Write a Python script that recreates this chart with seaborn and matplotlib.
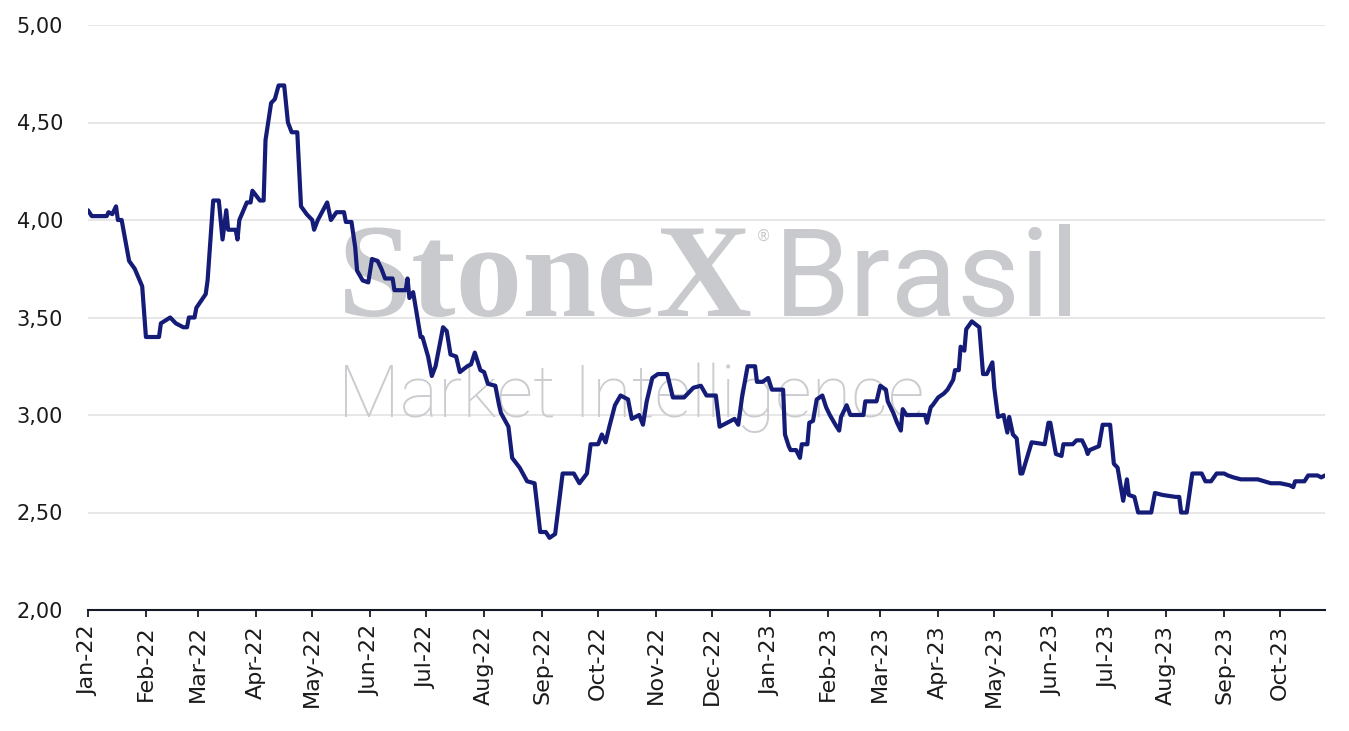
import pandas as pd
import numpy as np
import matplotlib
matplotlib.use('Agg')
import matplotlib.pyplot as plt
import matplotlib.dates as mdates
from matplotlib.ticker import FuncFormatter, MultipleLocator
import seaborn as sns

# days counted from 2022-01-01
days = [0, 2, 10, 11, 13, 15, 16, 18, 22, 25, 29, 31, 38, 39, 44, 47, 51, 53, 54, 57,
        58, 63, 64, 67, 70, 72, 74, 75, 79, 80, 81, 85, 87, 88, 92, 94, 95, 98, 100, 102,
        105, 107, 109, 112, 114, 117, 120, 121, 123, 128, 130, 133, 137, 138, 141, 143, 144, 147, 150, 152,
        155, 157, 159, 163, 164, 170, 171, 172, 174, 178, 179, 182, 184, 186, 190, 192, 194, 197, 199, 203,
        205, 207, 210, 212, 214, 218, 220, 221, 225, 227, 231, 235, 239, 242, 245, 247, 250, 254, 260, 263,
        267, 269, 273, 275, 277, 279, 282, 285, 289, 291, 295, 297, 299, 302, 305, 310, 313, 319, 324, 328,
        331, 336, 338, 342, 346, 348, 350, 353, 357, 358, 361, 364, 366, 372, 373, 375, 376, 379, 381, 382,
        385, 386, 388, 390, 393, 395, 397, 400, 402, 403, 406, 408, 415, 416, 422, 424, 427, 428, 431, 433,
        435, 436, 438, 448, 449, 451, 452, 455, 458, 460, 463, 464, 466, 467, 469, 470, 473, 477, 479, 481,
        484, 485, 487, 490, 492, 493, 495, 497, 499, 500, 505, 512, 514, 515, 518, 521, 522, 527, 529, 532,
        534, 535, 536, 541, 543, 547, 549, 551, 554, 556, 557, 560, 562, 567, 569, 571, 575, 582, 584, 585,
        588, 591, 596, 598, 601, 604, 608, 610, 613, 617, 626, 633, 638, 643, 645, 646, 651, 653, 658, 660,
        662]
values = [4.05, 4.02, 4.02, 4.04, 4.03, 4.07, 4.00, 4.00, 3.79, 3.75, 3.66, 3.40, 3.40, 3.47, 3.50, 3.47, 3.45, 3.45, 3.50, 3.50,
          3.55, 3.62, 3.69, 4.10, 4.10, 3.90, 4.05, 3.95, 3.95, 3.90, 4.00, 4.09, 4.09, 4.15, 4.10, 4.10, 4.41, 4.60, 4.62, 4.69,
          4.69, 4.50, 4.45, 4.45, 4.07, 4.03, 4.00, 3.95, 4.00, 4.09, 4.00, 4.04, 4.04, 3.99, 3.99, 3.86, 3.74, 3.69, 3.68, 3.80,
          3.79, 3.75, 3.70, 3.70, 3.64, 3.64, 3.70, 3.60, 3.63, 3.40, 3.40, 3.30, 3.20, 3.25, 3.45, 3.43, 3.31, 3.30, 3.22, 3.25,
          3.26, 3.32, 3.23, 3.22, 3.16, 3.15, 3.05, 3.01, 2.94, 2.78, 2.73, 2.66, 2.65, 2.40, 2.40, 2.37, 2.39, 2.70, 2.70, 2.65,
          2.70, 2.85, 2.85, 2.90, 2.86, 2.94, 3.05, 3.10, 3.08, 2.98, 3.00, 2.95, 3.07, 3.19, 3.21, 3.21, 3.09, 3.09, 3.14, 3.15,
          3.10, 3.10, 2.94, 2.96, 2.98, 2.95, 3.09, 3.25, 3.25, 3.17, 3.17, 3.19, 3.13, 3.13, 2.90, 2.84, 2.82, 2.82, 2.78, 2.85,
          2.85, 2.96, 2.97, 3.08, 3.10, 3.04, 3.00, 2.95, 2.92, 2.99, 3.05, 3.00, 3.00, 3.07, 3.07, 3.15, 3.13, 3.07, 3.01, 2.96,
          2.92, 3.03, 3.00, 3.00, 2.96, 3.04, 3.05, 3.09, 3.11, 3.13, 3.18, 3.23, 3.23, 3.35, 3.33, 3.44, 3.48, 3.45, 3.21, 3.21,
          3.27, 3.14, 2.99, 3.00, 2.91, 2.99, 2.90, 2.88, 2.70, 2.70, 2.86, 2.85, 2.96, 2.96, 2.80, 2.79, 2.85, 2.85, 2.87, 2.87,
          2.83, 2.80, 2.82, 2.84, 2.95, 2.95, 2.75, 2.73, 2.56, 2.67, 2.59, 2.58, 2.50, 2.50, 2.50, 2.60, 2.59, 2.58, 2.58, 2.50,
          2.50, 2.70, 2.70, 2.66, 2.66, 2.70, 2.70, 2.69, 2.68, 2.67, 2.67, 2.65, 2.65, 2.64, 2.63, 2.66, 2.66, 2.69, 2.69, 2.68,
          2.69]

y_ticks = [2.0, 2.5, 3.0, 3.5, 4.0, 4.5, 5.0]

df = pd.DataFrame({'date': pd.Timestamp('2022-01-01') + pd.to_timedelta(days, unit='D'),
                   'value': values})

sns.set_theme(style='white')
plt.rcParams['font.family'] = ['DejaVu Sans']

W, H = 1349, 731
fig, ax = plt.subplots(figsize=(W / 100, H / 100), dpi=100)
fig.subplots_adjust(left=88 / W, right=1325 / W, top=1 - 25 / H, bottom=1 - 610 / H)

sns.lineplot(data=df, x='date', y='value', ax=ax, color='#141c78', linewidth=3.0, zorder=4)

ax.set_xlim(df['date'].iloc[0], df['date'].iloc[-1])
ax.set_ylim(y_ticks[0], y_ticks[-1])
ax.set_yticks(y_ticks)
ax.yaxis.set_major_formatter(FuncFormatter(lambda v, _: f"{v:.2f}".replace('.', ',')))
ax.xaxis.set_major_locator(mdates.MonthLocator())
ax.xaxis.set_major_formatter(mdates.DateFormatter('%b-%y'))
ax.set_xlabel('')
ax.set_ylabel('')

ax.grid(axis='y', color='#e3e3e3', linewidth=1.2, zorder=0)
ax.grid(axis='x', visible=False)
for s in ['left', 'right', 'top']:
    ax.spines[s].set_visible(False)
ax.spines['bottom'].set_color('#151a26')
ax.spines['bottom'].set_linewidth(1.5)

ax.tick_params(axis='y', length=0, pad=18, labelsize=15, labelcolor='#1a1a1a')
ax.tick_params(axis='x', length=5, width=1.3, color='#151a26', pad=6, labelsize=16,
               labelcolor='#1a1a1a', rotation=90, bottom=True)

# watermark
wm = '#c9cacd'
ax.text(338 / W, 1 - 316 / H, 'StoneX', transform=fig.transFigure, fontsize=96,
        family='Liberation Serif', fontweight='bold', color=wm, ha='left', va='baseline', zorder=1)
ax.text(763 / W, 1 - 236 / H, '®', transform=fig.transFigure, fontsize=11,
        color=wm, ha='center', va='center', zorder=1)
ax.text(774 / W, 1 - 316 / H, 'Brasil', transform=fig.transFigure, fontsize=88,
        family='Roboto', fontweight='normal', color=wm, ha='left', va='baseline', zorder=1)
ax.text(338 / W, 1 - 417 / H, 'Market Intelligence', transform=fig.transFigure, fontsize=52,
        family='Roboto', fontweight='light', color='#cbcccf', ha='left', va='baseline', zorder=1)

fig.savefig('out.png', dpi=100)
